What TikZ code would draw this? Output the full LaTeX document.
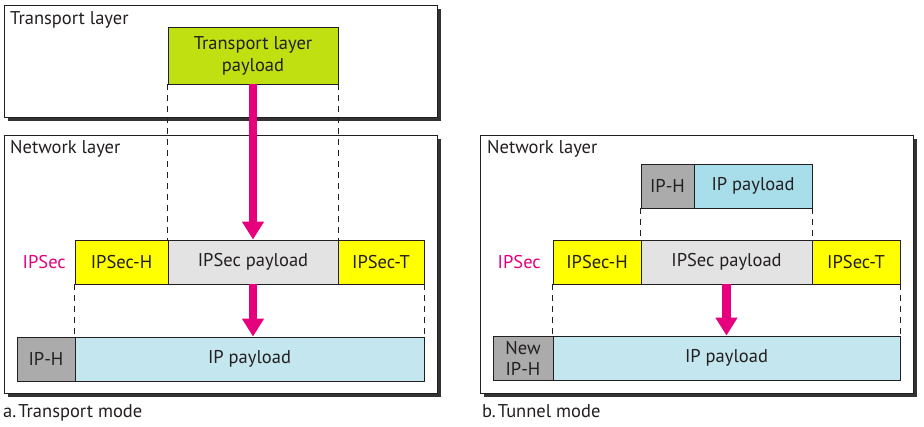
\documentclass[tikz,border=0pt]{standalone}
\usepackage{fontspec}
\setmainfont{PT Sans}
\usetikzlibrary{arrows.meta}
\definecolor{lime}{RGB}{192,224,18}
\definecolor{hdr}{RGB}{255,255,0}
\definecolor{lgray}{RGB}{227,227,227}
\definecolor{mgray}{RGB}{171,171,171}
\definecolor{lblue}{RGB}{196,231,239}
\definecolor{mblue}{RGB}{168,221,234}
\definecolor{pink}{RGB}{230,0,126}
\definecolor{ink}{RGB}{35,31,32}
\begin{document}
\begin{tikzpicture}[x=1pt,y=-1pt,
  every node/.style={font=\fontsize{18.5}{22}\selectfont, text=ink},
  field/.style={draw=ink, line width=0.9pt, minimum height=44pt, inner sep=0pt, align=center},
  frame/.style={draw=ink, fill=white, line width=0.9pt},
  shadow/.style={fill=black!80},
  guide/.style={draw=ink, dash pattern=on 6pt off 5pt, line width=1.1pt},
  bigarrow/.style={draw=pink, line width=8.5pt, -{Triangle[length=18pt,width=21pt]}},
  lbl/.style={anchor=base west, inner sep=0pt},
]
\useasboundingbox (0,0) rectangle (924,427);
% frames
\fill[shadow] (8,9) rectangle (441,121);
\draw[frame] (4,5) rectangle (437,117);
\fill[shadow] (8,139) rectangle (441,397);
\draw[frame] (4,135) rectangle (437,393);
\fill[shadow] (484,139) rectangle (917,397);
\draw[frame] (480,135) rectangle (913,393);
\node[lbl] (tlab) at (10,25) {Transport layer};
\node[lbl] (nlabL) at (10,154) {Network layer};
\node[lbl] (nlabR) at (487,154) {Network layer};
\node[lbl] (capA) at (3,418) {a.\hspace{2pt}Transport mode};
\node[lbl] (capB) at (482,418) {b.\hspace{2pt}Tunnel mode};
% left: transport mode
\node[field, fill=lime, minimum width=170pt, minimum height=57pt] (tp) at (253,55.5) {Transport layer\\payload};
\node[field, fill=hdr, minimum width=93pt] (ihL) at (121.5,262) {IPSec-H};
\node[field, fill=lgray, minimum width=170pt] (ipL) at (253,262) {IPSec payload};
\node[field, fill=hdr, minimum width=86pt] (itL) at (381,262) {IPSec-T};
\node[field, fill=mgray, minimum width=58pt] (iphL) at (46,359) {IP-H};
\node[field, fill=lblue, minimum width=349pt] (ippL) at (249.5,359) {IP payload};
\node[anchor=east, inner sep=0pt, text=pink] (secL) at (66,262) {IPSec};
\draw[guide] (tp.south west) -- (ipL.north west);
\draw[guide] (tp.south east) -- (ipL.north east);
\draw[guide] (ihL.south west) -- (ippL.north west);
\draw[guide] (itL.south east) -- (ippL.north east);
\draw[bigarrow] (tp.south) -- (ipL.north);
\draw[bigarrow] (ipL.south) -- (ippL.north -| ipL.south);
% right: tunnel mode
\node[field, fill=mgray, minimum width=53pt] (iphT) at (667.5,186) {IP-H};
\node[field, fill=mblue, minimum width=118pt] (ippT) at (753,186) {IP payload};
\node[field, fill=hdr, minimum width=88pt] (ihR) at (597,262) {IPSec-H};
\node[field, fill=lgray, minimum width=171pt] (ipR) at (726.5,262) {IPSec payload};
\node[field, fill=hdr, minimum width=88pt] (itR) at (856,262) {IPSec-T};
\node[field, fill=mgray, minimum width=60pt, font=\fontsize{18.5}{21}\selectfont] (niph) at (523,358) {New\\IP-H};
\node[field, fill=lblue, minimum width=347pt] (ippR) at (726.5,358) {IP payload};
\node[anchor=east, inner sep=0pt, text=pink] (secR) at (541,262) {IPSec};
\draw[guide] (iphT.south west) -- (ipR.north west);
\draw[guide] (ippT.south east) -- (ipR.north east);
\draw[guide] (ihR.south west) -- (ippR.north west);
\draw[guide] (itR.south east) -- (ippR.north east);
\draw[bigarrow] (ipR.south) -- (ippR.north);
\end{tikzpicture}
\end{document}
